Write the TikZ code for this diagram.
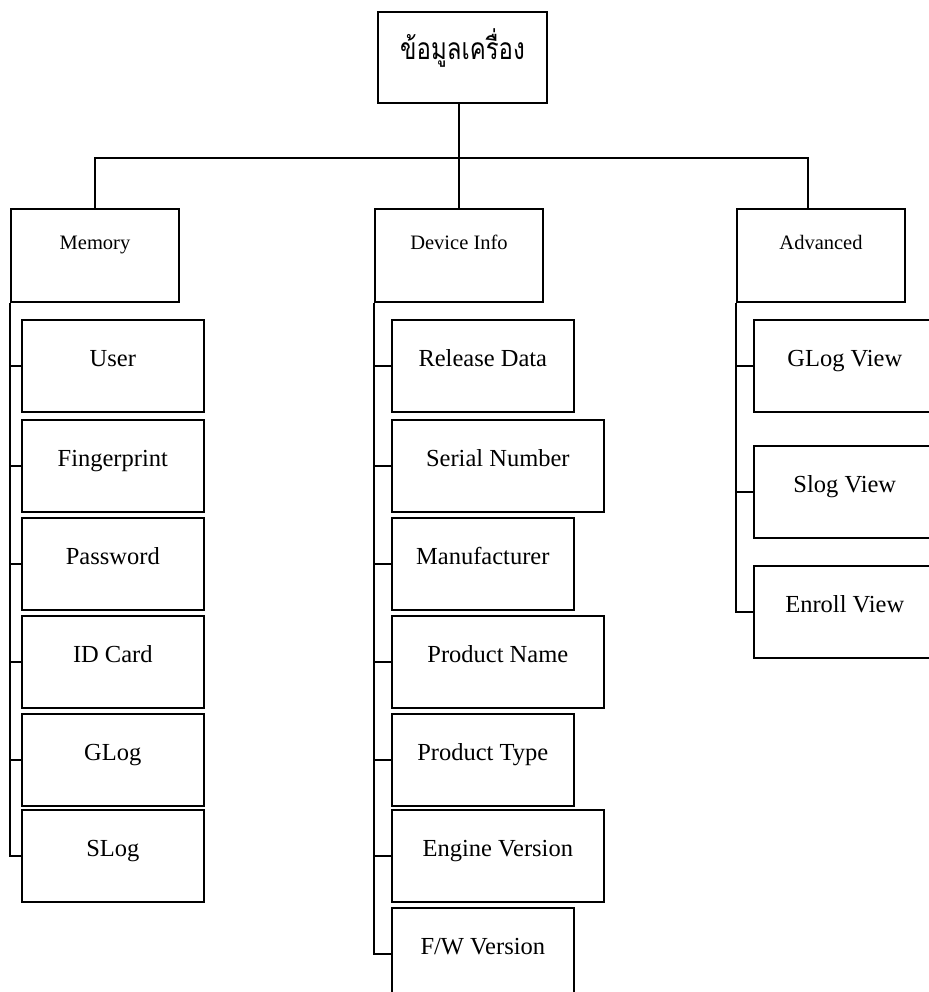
\documentclass[tikz,border=0pt]{standalone}
\usepackage{fontspec}
\setmainfont{Liberation Serif}
\newfontfamily\thaifont[Script=Thai, FakeStretch=0.8]{Loma}
\tikzset{
  wire/.style={line width=1.6pt},
  box/.style={draw, wire, inner sep=0pt, minimum width=182pt, minimum height=92pt,
    text height=12pt, text depth=12pt, font=\fontsize{24.5}{28}\selectfont},
  head/.style={box, minimum width=168pt, minimum height=93pt,
    text height=10pt, text depth=21pt, font=\fontsize{20.5}{24}\selectfont},
  rootbox/.style={box, minimum width=169pt, minimum height=91pt,
    text height=17pt, text depth=13pt, font=\thaifont\fontsize{30}{34}\selectfont}
}

\begin{document}
\begin{tikzpicture}[x=1pt, y=-1pt]
                  \useasboundingbox (0,0) rectangle (928,992);

                  \node[rootbox] (root) at (462.5, 57.5) {ข้อมูลเครื่อง};

                  \node[head] (mem) at (95, 255.5) {Memory};
                  \node[head] (dev) at (459, 255.5) {Device Info};
                  \node[head] (adv) at (821, 255.5) {Advanced};

                  \coordinate (bar) at (459, 158);
                  \draw[wire] (root.south -| dev.north) -- (dev.north);
                  \draw[wire] (mem.north) |- (bar) -| ([xshift=-13pt]adv.north);

                  \foreach[count=\i] \y/\txt in {366/User, 466/Fingerprint, 564/Password,
                      662/ID Card, 760/GLog, 856/SLog}
                  {
                  \node[box, anchor=west] (mem\i) at (21, \y) {\txt};
                  \draw[wire] (mem.south west) |- (mem\i.west);
                  }

                  \foreach[count=\i] \y/\w/\txt in {366/182/Release Data, 466/212/Serial Number,
                      564/182/Manufacturer, 662/212/Product Name, 760/182/Product Type,
                      856/212/Engine Version, 954/182/{F/W Version}}
                  {
                  \node[box, anchor=west, minimum width=\w pt] (dev\i) at (391, \y) {\txt};
                  \draw[wire] (dev.south west) |- (dev\i.west);
                  }

                  \foreach[count=\i] \y/\txt in {366/GLog View, 492/Slog View, 612/Enroll View}
                  {
                  \node[box, anchor=west] (adv\i) at (753, \y) {\txt};
                  \draw[wire] (adv.south west) |- (adv\i.west);
                  }
              \end{tikzpicture}
\end{document}
